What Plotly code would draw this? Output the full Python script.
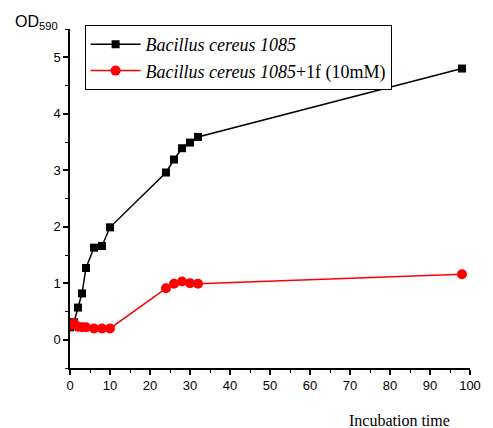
import plotly.graph_objects as go

time_h = [0, 1, 2, 3, 4, 6, 8, 10, 24, 26, 28, 30, 32, 98]
od_control = [0.22, 0.31, 0.57, 0.82, 1.27, 1.63, 1.66, 1.99, 2.96, 3.19, 3.39, 3.49, 3.59, 4.80]
od_treated = [0.26, 0.29, 0.23, 0.22, 0.22, 0.20, 0.20, 0.20, 0.91, 0.99, 1.03, 1.00, 0.99, 1.16]
name_control = "<i>Bacillus cereus 1085</i>"
name_treated = "<i>Bacillus cereus 1085</i>+1f (10mM)"
x_ticks = [0, 10, 20, 30, 40, 50, 60, 70, 80, 90, 100]
y_ticks = [0, 1, 2, 3, 4, 5]

# page has an 8px body margin; figure is sized so the plot lands where the reference has it
OFF = 8
W, H = 493 - OFF, 428 - OFF
L, R, T, B = 70 - OFF, 12, 29 - OFF, 60
PW, PH = W - L - R, H - T - B


def px_to_paper(xp, yp):
    return (xp - OFF - L) / PW, 1 - (yp - OFF - T) / PH


fig = go.Figure()
fig.add_trace(go.Scatter(x=time_h, y=od_control, mode="lines+markers", name=name_control,
                         line=dict(color="black", width=1.5),
                         marker=dict(symbol="square", size=8, color="black")))
fig.add_trace(go.Scatter(x=time_h, y=od_treated, mode="lines+markers", name=name_treated,
                         line=dict(color="red", width=1.5),
                         marker=dict(symbol="circle", size=10, color="red")))

axis_common = dict(showgrid=False, zeroline=False, showline=True, linecolor="black", linewidth=1.5,
                   ticks="outside", ticklen=5, tickwidth=1.5, tickcolor="black",
                   tickfont=dict(family="Liberation Sans, Arial", size=13, color="black"))
fig.update_xaxes(range=[0, 100], tickvals=x_ticks,
                 minor=dict(ticks="outside", ticklen=3, tickwidth=1.2, tickcolor="black", dtick=5),
                 **axis_common)
fig.update_yaxes(range=[-0.5, 5.5], tickvals=y_ticks,
                 minor=dict(ticks="outside", ticklen=3, tickwidth=1.2, tickcolor="black", dtick=0.5, tick0=0),
                 **axis_common)

lx, ly = px_to_paper(85, 25)
ox, oy = px_to_paper(11, 22)
ix, iy = px_to_paper(409, 420)

fig.update_layout(
    width=W, height=H,
    margin=dict(l=L, r=R, t=T, b=B),
    plot_bgcolor="white", paper_bgcolor="white",
    legend=dict(x=lx, y=ly, xanchor="left", yanchor="top",
                bordercolor="black", borderwidth=1, bgcolor="white",
                font=dict(family="Liberation Serif, Times New Roman", size=18, color="black"),
                tracegroupgap=0, itemwidth=50),
    annotations=[
        dict(text="OD<sub>590</sub>", x=ox, y=oy, xref="paper", yref="paper", showarrow=False,
             xanchor="left", yanchor="middle",
             font=dict(family="Liberation Sans, Arial", size=16, color="black")),
        dict(text="Incubation time", x=ix, y=iy, xref="paper", yref="paper", showarrow=False,
             xanchor="center", yanchor="middle",
             font=dict(family="Liberation Serif, Times New Roman", size=16, color="black")),
    ],
)
fig.write_html("out.html")
